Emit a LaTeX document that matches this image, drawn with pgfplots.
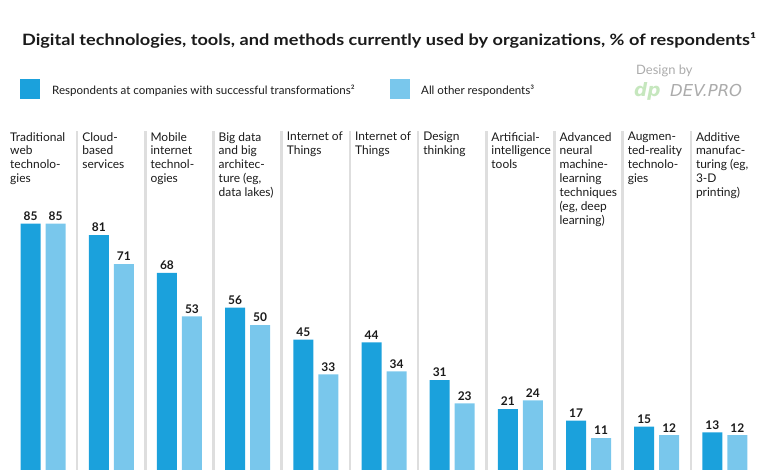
\documentclass[border=0pt]{standalone}
\usepackage{pgfplots}
\pgfplotsset{compat=1.18}
\usepackage{fontspec}
\setmainfont{Lato}
\newfontfamily\titlefont[FakeStretch=1.16]{Lato}
\newfontfamily\devfont{DejaVu Sans}
\definecolor{dark}{HTML}{1BA1DC}
\definecolor{light}{HTML}{79C7EC}
\definecolor{sepc}{HTML}{DEDEDE}
\definecolor{txt}{HTML}{1A1A1A}
\definecolor{dpgreen}{HTML}{C6E7BE}
\definecolor{dpgray}{HTML}{ABABAB}
\begin{document}
\begin{tikzpicture}
\path[use as bounding box] (0,0) rectangle (771bp,470bp);
% title
\node[anchor=base, inner sep=0, text=txt, font=\titlefont\bfseries\fontsize{15.7}{18}\selectfont] at (389bp,424bp) {Digital technologies, tools, and methods currently used by organizations, \% of respondents¹};
% legend
\fill[dark] (20bp,371bp) rectangle (40bp,391bp);
\node[anchor=base west, inner sep=0, text=txt, font=\fontsize{11.6}{13}\selectfont] at (52bp,375bp) {Respondents at companies with successful transformations²};
\fill[light] (390bp,371bp) rectangle (410bp,391bp);
\node[anchor=base west, inner sep=0, text=txt, font=\fontsize{11.6}{13}\selectfont] at (421bp,375bp) {All other respondents³};
% design by
\node[anchor=base west, inner sep=0, text=dpgray, font=\fontsize{13}{14}\selectfont] at (636bp,395bp) {Design by};
\node[anchor=base west, inner sep=0, text=dpgreen, font=\devfont\bfseries\itshape\fontsize{18.5}{18}\selectfont] at (634bp,373bp) {dp};
\node[anchor=base west, inner sep=0, text=dpgray, font=\devfont\itshape\fontsize{16.5}{16}\selectfont] at (670bp,373bp) {DEV.PRO};
\begin{axis}[
  at={(9bp,0bp)}, anchor=south west,
  scale only axis, width=750bp, height=339bp,
  xmin=-0.5, xmax=10.5, ymin=0, ymax=116.9,
  axis line style={draw=none}, tick style={draw=none},
  ytick=\empty,
  xtick={0.5,1.5,2.5,3.5,4.5,5.5,6.5,7.5,8.5,9.5}, xticklabels={},
  xmajorgrids, major grid style={sepc, line width=2.6bp},
  ybar=5bp, bar width=20bp, clip=false,
  /pgf/number format/assume math mode=true,
  nodes near coords,
  every node near coord/.append style={font=\bfseries\fontsize{12}{12}\selectfont, text=txt, anchor=south, inner sep=0, yshift=3bp},
]
\addplot[fill=dark, draw=none] coordinates {(0,85) (1,81) (2,68) (3,56) (4,45) (5,44) (6,31) (7,21) (8,17) (9,15) (10,13)};
\addplot[fill=light, draw=none] coordinates {(0,85) (1,71) (2,53) (3,50) (4,33) (5,34) (6,23) (7,24) (8,11) (9,12) (10,12)};
\tikzset{cat/.style={anchor=north west, align=left, inner sep=0, text=txt, font=\fontsize{12}{14}\selectfont, xshift=5bp, yshift=-1bp}}
\node[cat, xshift=-4bp] at (axis cs:-0.5,116.9) {Traditional\\web\\technolo-\\gies};
\node[cat] at (axis cs:0.5,116.9) {Cloud-\\based\\services};
\node[cat] at (axis cs:1.5,116.9) {Mobile\\internet\\technol-\\ogies};
\node[cat] at (axis cs:2.5,116.9) {Big data\\and big\\architec-\\ture (eg,\\data lakes)};
\node[cat] at (axis cs:3.5,116.9) {Internet of\\Things};
\node[cat] at (axis cs:4.5,116.9) {Internet of\\Things};
\node[cat] at (axis cs:5.5,116.9) {Design\\thinking};
\node[cat] at (axis cs:6.5,116.9) {Artificial-\\intelligence\\tools};
\node[cat] at (axis cs:7.5,116.9) {Advanced\\neural\\machine-\\learning\\techniques\\(eg, deep\\learning)};
\node[cat] at (axis cs:8.5,116.9) {Augmen-\\ted-reality\\technolo-\\gies};
\node[cat] at (axis cs:9.5,116.9) {Additive\\manufac-\\turing (eg,\\3-D\\printing)};
\end{axis}
\end{tikzpicture}
\end{document}
